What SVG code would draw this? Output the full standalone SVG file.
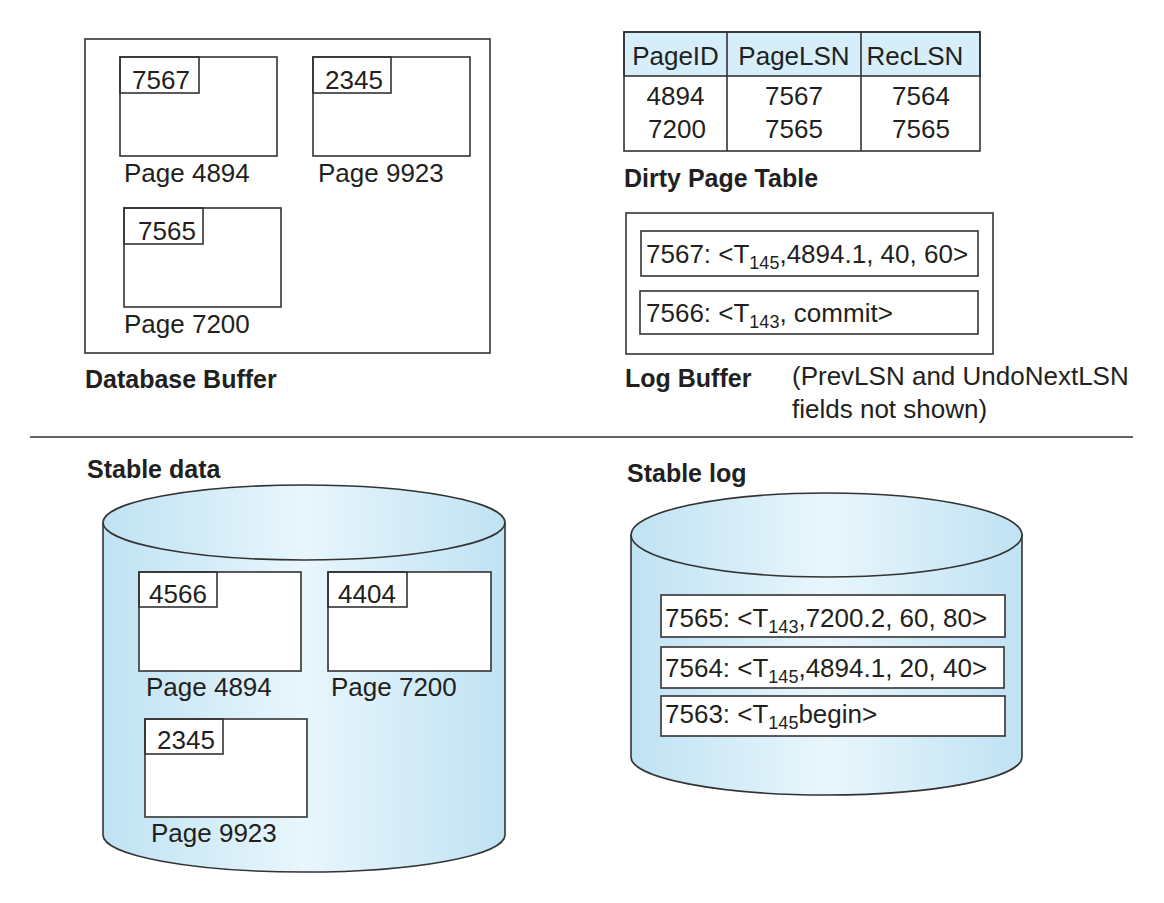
<svg xmlns="http://www.w3.org/2000/svg" width="1164" height="903" viewBox="0 0 1164 903">
<style>
.t{font-family:"Liberation Sans",Arial,sans-serif;font-size:26px;fill:#231f20}
.b{font-family:"Liberation Sans",Arial,sans-serif;font-size:25px;font-weight:bold;fill:#231f20}
.s{font-size:18px}
.bx{fill:#fff;stroke:#333;stroke-width:1.6}
.ln{fill:none;stroke:#333;stroke-width:1.6}
.cyl{fill:url(#cg);stroke:#333;stroke-width:1.6}
.c{text-anchor:middle}
</style>
<defs>
<linearGradient id="cg" x1="0" y1="0" x2="1" y2="0">
<stop offset="0" stop-color="#bfe2f3"/>
<stop offset="0.5" stop-color="#e9f6fc"/>
<stop offset="1" stop-color="#bfe2f3"/>
</linearGradient>
</defs>
<rect width="1164" height="903" fill="#fff"/>

<g id="database-buffer">
<rect class="bx" x="85" y="39" width="405" height="314"/>
<rect class="bx" x="120" y="57" width="157" height="99"/>
<rect class="ln" x="120" y="57" width="79" height="36"/>
<text class="t" x="132" y="89">7567</text>
<text class="t" x="124" y="182">Page 4894</text>
<rect class="bx" x="313" y="57" width="157" height="99"/>
<rect class="ln" x="313" y="57" width="78" height="36"/>
<text class="t" x="325" y="89">2345</text>
<text class="t" x="318" y="182">Page 9923</text>
<rect class="bx" x="124" y="208" width="157" height="99"/>
<rect class="ln" x="124" y="208" width="79" height="36"/>
<text class="t" x="138" y="240">7565</text>
<text class="t" x="124" y="333">Page 7200</text>
<text class="b" x="85" y="388">Database Buffer</text>
</g>

<g id="dirty-page-table">
<rect x="624" y="32" width="356" height="44" fill="#d5eef9" stroke="#333" stroke-width="1.6"/>
<rect class="ln" x="624" y="32" width="356" height="119"/>
<line class="ln" x1="727" y1="32" x2="727" y2="151"/>
<line class="ln" x1="861" y1="32" x2="861" y2="151"/>
<text class="t c" x="675.5" y="65">PageID</text>
<text class="t c" x="794" y="65">PageLSN</text>
<text class="t c" x="915" y="65">RecLSN</text>
<text class="t c" x="675.5" y="105">4894</text>
<text class="t c" x="794" y="105">7567</text>
<text class="t c" x="921" y="105">7564</text>
<text class="t c" x="677" y="138">7200</text>
<text class="t c" x="794" y="138">7565</text>
<text class="t c" x="921" y="138">7565</text>
<text class="b" x="624" y="187">Dirty Page Table</text>
</g>

<g id="log-buffer">
<rect class="bx" x="626" y="213" width="367" height="141"/>
<rect class="bx" x="641" y="231" width="337" height="45"/>
<text class="t" x="646" y="263">7567: &lt;T<tspan class="s" dy="6">145</tspan><tspan dy="-6">,4894.1, 40, 60&gt;</tspan></text>
<rect class="bx" x="640" y="291" width="338" height="43"/>
<text class="t" x="646" y="322">7566: &lt;T<tspan class="s" dy="6">143</tspan><tspan dy="-6">, commit&gt;</tspan></text>
<text class="b" x="625" y="387">Log Buffer</text>
<text class="t" x="792" y="385">(PrevLSN and UndoNextLSN</text>
<text class="t" x="792" y="418">fields not shown)</text>
</g>

<g id="separator">
<line x1="30" y1="437" x2="1133" y2="437" stroke="#333" stroke-width="1.6"/>
</g>

<g id="stable-data">
<text class="b" x="87" y="478">Stable data</text>
<path class="cyl" d="M103,522.5 V835 A201,37 0 0 0 505,835 V522.5 Z"/>
<ellipse class="cyl" cx="304" cy="522.5" rx="201" ry="37.5"/>
<rect class="bx" x="139" y="572" width="162" height="99"/>
<rect class="ln" x="139" y="572" width="78" height="35"/>
<text class="t" x="149" y="603">4566</text>
<text class="t" x="146" y="696">Page 4894</text>
<rect class="bx" x="328" y="572" width="163" height="99"/>
<rect class="ln" x="328" y="572" width="79" height="35"/>
<text class="t" x="338" y="603">4404</text>
<text class="t" x="331" y="696">Page 7200</text>
<rect class="bx" x="145" y="719" width="162" height="98"/>
<rect class="ln" x="145" y="719" width="78" height="35"/>
<text class="t" x="157" y="749">2345</text>
<text class="t" x="151" y="842">Page 9923</text>
</g>

<g id="stable-log">
<text class="b" x="627" y="482">Stable log</text>
<path class="cyl" d="M631,535 V757 A195.5,38 0 0 0 1022,757 V535 Z"/>
<ellipse class="cyl" cx="826.5" cy="535" rx="195.5" ry="42"/>
<rect class="bx" x="661" y="595" width="344" height="42"/>
<text class="t" x="665" y="627">7565: &lt;T<tspan class="s" dy="6">143</tspan><tspan dy="-6">,7200.2, 60, 80&gt;</tspan></text>
<rect class="bx" x="661" y="647" width="343" height="41"/>
<text class="t" x="665" y="677">7564: &lt;T<tspan class="s" dy="6">145</tspan><tspan dy="-6">,4894.1, 20, 40&gt;</tspan></text>
<rect class="bx" x="661" y="696" width="344" height="40"/>
<text class="t" x="665" y="723">7563: &lt;T<tspan class="s" dy="6">145</tspan><tspan dy="-6">begin&gt;</tspan></text>
</g>
</svg>
